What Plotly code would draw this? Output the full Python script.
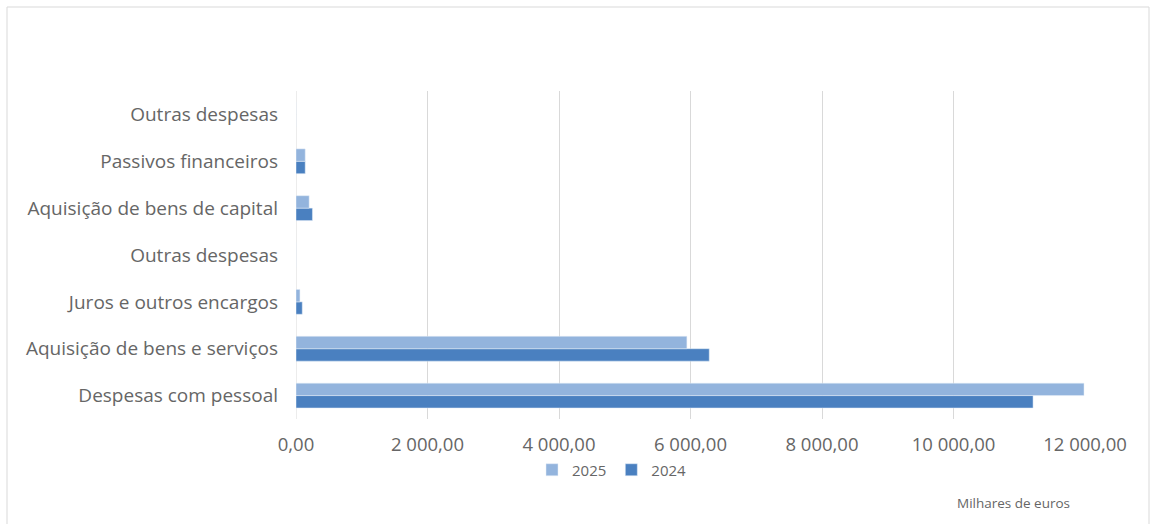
import plotly.graph_objects as go

categories = ["Despesas com pessoal", "Aquisição de bens e serviços", "Juros e outros encargos",
              "Outras despesas", "Aquisição de bens de capital", "Passivos financeiros", "Outras despesas"]
values_2025 = [11985, 5945, 60, 0, 200, 140, 0]
values_2024 = [11210, 6285, 95, 0, 250, 140, 0]
x_ticks = [0, 2000, 4000, 6000, 8000, 10000, 12000]

positions = list(range(len(categories)))

fig = go.Figure()
fig.add_trace(go.Bar(y=positions, x=values_2024, orientation="h", name="2024",
                     marker=dict(color="#4A80C0"), legendrank=2))
fig.add_trace(go.Bar(y=positions, x=values_2025, orientation="h", name="2025",
                     marker=dict(color="#93B4DD"), legendrank=1))

font_color = "#666666"
fig.update_layout(
    width=1152, height=524,
    margin=dict(l=296, r=67, t=91, b=105),
    paper_bgcolor="white", plot_bgcolor="white",
    barmode="group", bargap=0.47, bargroupgap=0,
    separators=", ",
    font=dict(family="Open Sans", size=15, color=font_color),
    xaxis=dict(range=[0, 12000], tickvals=x_ticks, tickformat=",.2f",
               showgrid=True, gridcolor="#D9D9D9", gridwidth=1,
               zeroline=False, showline=False, ticks="", ticklabelstandoff=12,
               tickfont=dict(size=18.5, color=font_color)),
    yaxis=dict(tickmode="array", tickvals=positions, ticktext=categories,
               range=[-0.5, len(categories) - 0.5],
               showgrid=False, zeroline=False, showline=False, ticks="",
               ticklabelstandoff=17,
               tickfont=dict(size=19, color=font_color)),
    legend=dict(orientation="h", x=(612 - 296) / 789, xanchor="center",
                y=(419 - 470) / 328, yanchor="middle",
                font=dict(size=15, color=font_color), itemwidth=30,
                traceorder="normal", tracegroupgap=0),
    showlegend=True,
)
# left axis line at zero
fig.add_shape(type="line", xref="x", yref="paper", x0=0, x1=0, y0=0, y1=1,
              line=dict(color="#D9D9D9", width=1), layer="below")
# outer chart border
fig.add_shape(type="rect", xref="paper", yref="paper",
              x0=(7 - 296) / 789, x1=(1149 - 296) / 789,
              y0=-0.5, y1=(419 - 7) / 328,
              line=dict(color="#D9D9D9", width=1), fillcolor="rgba(0,0,0,0)")
fig.add_annotation(text="Milhares de euros", xref="paper", yref="paper",
                   x=(1072 - 296) / 789, xanchor="right",
                   y=(419 - 503) / 328, yanchor="middle", showarrow=False,
                   font=dict(size=13.5, color=font_color))

fig.write_html("out.html")
